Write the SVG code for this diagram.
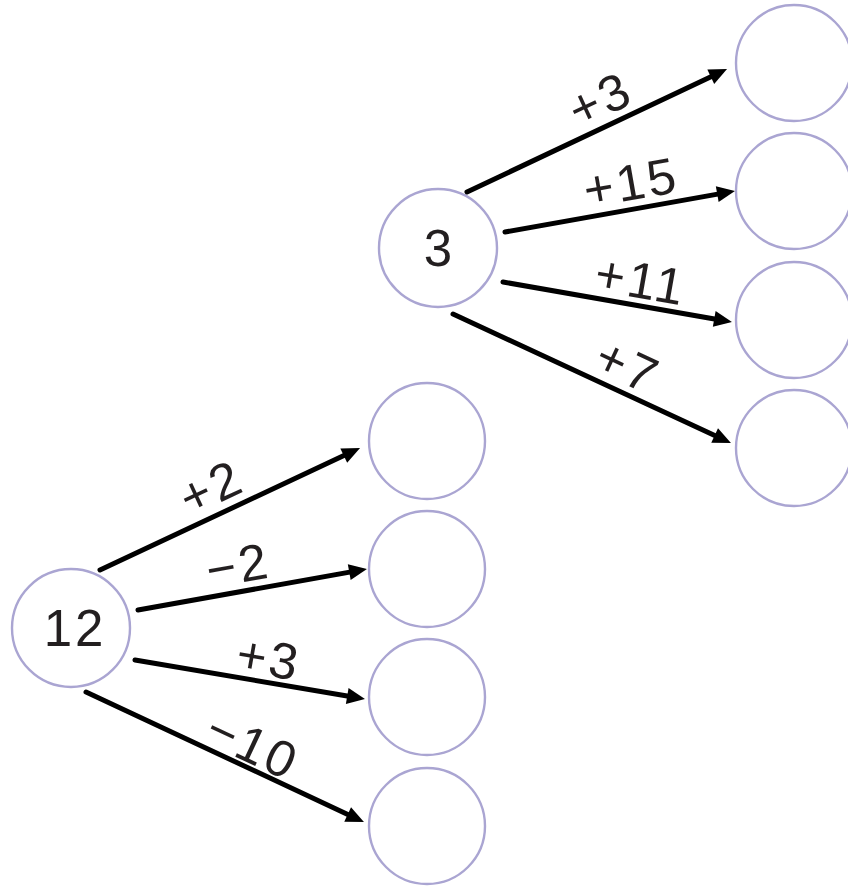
<svg xmlns="http://www.w3.org/2000/svg" width="848" height="887" viewBox="0 0 848 887">
<style>
.n{fill:#fff;stroke:#aaa5d2;stroke-width:2.4}
.t{font-family:"Liberation Sans",Arial,sans-serif;font-size:51px;letter-spacing:3px;fill:#231f20;text-anchor:middle}
.e{stroke:#000;stroke-width:5;stroke-linecap:round;fill:none;marker-end:url(#ah)}
</style>
<defs>
<marker id="ah" markerUnits="userSpaceOnUse" markerWidth="18" markerHeight="16" refX="9" refY="8" orient="auto" overflow="visible">
<path d="M0,0 L18,8 L0,16 z" fill="#000"/>
</marker>
</defs>
<rect width="848" height="887" fill="#fff"/>
<g id="n3"><circle class="n" cx="438" cy="248" r="59"/><text class="t" x="439.5" y="266">3</text></g>
<g id="r1"><circle class="n" cx="794" cy="63" r="58"/></g>
<g id="r2"><circle class="n" cx="794" cy="191" r="58"/></g>
<g id="r3"><circle class="n" cx="794" cy="320" r="58"/></g>
<g id="r4"><circle class="n" cx="794" cy="448" r="58"/></g>
<g id="n12"><circle class="n" cx="71" cy="628" r="59"/><text class="t" x="75" y="646">12</text></g>
<g id="l1"><circle class="n" cx="427" cy="441" r="58"/></g>
<g id="l2"><circle class="n" cx="427" cy="569" r="58"/></g>
<g id="l3"><circle class="n" cx="427" cy="697" r="58"/></g>
<g id="l4"><circle class="n" cx="427" cy="826" r="58"/></g>
<g id="edges">
<line class="e" x1="467" y1="192" x2="718.9" y2="72.9"/>
<line class="e" x1="505" y1="232" x2="726.1" y2="192.6"/>
<line class="e" x1="503" y1="282" x2="723.1" y2="320.5"/>
<line class="e" x1="453" y1="314" x2="722.8" y2="439.2"/>
<line class="e" x1="100" y1="570" x2="351.9" y2="451.8"/>
<line class="e" x1="138" y1="610" x2="358.1" y2="570.6"/>
<line class="e" x1="135" y1="660" x2="356.1" y2="697.5"/>
<line class="e" x1="86" y1="692" x2="355.8" y2="818.2"/>
<text class="t" transform="translate(600,99) rotate(-25)" y="18">+3</text>
<text class="t" transform="translate(631,182) rotate(-10)" y="18">+15</text>
<text class="t" transform="translate(641,280) rotate(10)" y="18">+11</text>
<text class="t" transform="translate(628,366) rotate(25)" y="18">+7</text>
<text class="t" transform="translate(211,487) rotate(-25)" y="18">+2</text>
<text class="t" transform="translate(238,565) rotate(-10)" y="18">−2</text>
<text class="t" transform="translate(269,658) rotate(10)" y="18">+3</text>
<text class="t" transform="translate(253,745) rotate(25)" y="18">−10</text>
</g>
</svg>
